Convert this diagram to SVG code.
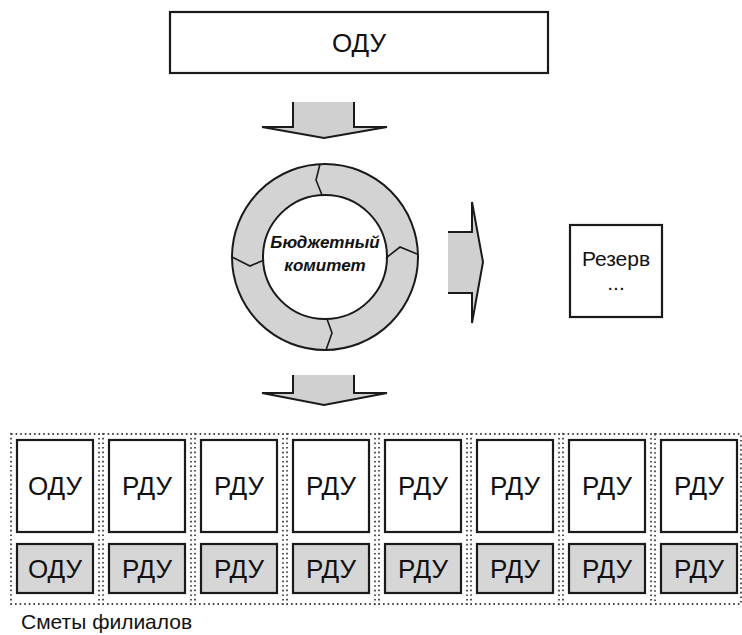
<svg xmlns="http://www.w3.org/2000/svg" width="742" height="635" viewBox="0 0 742 635">
  <style>
    .box { fill: #ffffff; stroke: #1a1a1a; stroke-width: 2.2; }
    .gbox { fill: #d6d6d6; stroke: #1a1a1a; stroke-width: 2.2; }
    .dots { fill: none; stroke: #444; stroke-width: 1.8; stroke-dasharray: 1.6 3; }
    .arrowFill { fill: #d0d0d0; stroke: none; }
    .arrowLine { fill: none; stroke: #1a1a1a; stroke-width: 2; stroke-linejoin: miter; }
    .lbl { font-family: "Liberation Sans", Arial, sans-serif; fill: #111; text-anchor: middle; }
    .big { font-size: 26px; }
    .mid { font-size: 21px; }
    .bi { font-size: 17px; font-weight: bold; font-style: italic; }
    .cap { font-family: "Liberation Sans", Arial, sans-serif; fill: #111; font-size: 21px; }
  </style>

  <!-- head office -->
  <g id="top-odu">
    <rect class="box" x="170" y="12" width="378" height="61"/>
    <text class="lbl big" x="359" y="52">ОДУ</text>
  </g>

  <!-- cycle of the budget committee -->
  <g id="committee">
    <circle cx="325" cy="257" r="93" fill="#d3d3d3" stroke="#1a1a1a" stroke-width="2"/>
    <circle cx="325" cy="257" r="62" fill="#ffffff" stroke="#1a1a1a" stroke-width="2"/>
    <g fill="none" stroke="#1a1a1a" stroke-width="1.6">
      <polyline points="320,164 316,180 322,195"/>
      <polyline points="417,254 400,247 386,258"/>
      <polyline points="327,319 332,333 326,350"/>
      <polyline points="232,257 250,266 264,260"/>
    </g>
    <text class="lbl bi" x="325" y="248">Бюджетный</text>
    <text class="lbl bi" x="325" y="271">комитет</text>
  </g>

  <g id="reserve">
    <rect class="box" x="570" y="225" width="92" height="92"/>
    <text class="lbl mid" x="616" y="266">Резерв</text>
    <text class="lbl mid" x="616" y="290">...</text>
  </g>

  <!-- branch estimates -->
  <g id="estimates">
    <g id="col1">
      <rect class="dots" x="11" y="434" width="88" height="170"/>
      <rect class="box" x="17" y="440" width="76" height="92"/>
      <rect class="gbox" x="17" y="544" width="76" height="49"/>
      <text class="lbl big" x="55" y="495">ОДУ</text>
      <text class="lbl big" x="55" y="578">ОДУ</text>
    </g>
    <g id="col2">
      <rect class="dots" x="103" y="434" width="88" height="170"/>
      <rect class="box" x="109" y="440" width="76" height="92"/>
      <rect class="gbox" x="109" y="544" width="76" height="49"/>
      <text class="lbl big" x="147" y="495">РДУ</text>
      <text class="lbl big" x="147" y="578">РДУ</text>
    </g>
    <g id="col3">
      <rect class="dots" x="195" y="434" width="88" height="170"/>
      <rect class="box" x="201" y="440" width="76" height="92"/>
      <rect class="gbox" x="201" y="544" width="76" height="49"/>
      <text class="lbl big" x="239" y="495">РДУ</text>
      <text class="lbl big" x="239" y="578">РДУ</text>
    </g>
    <g id="col4">
      <rect class="dots" x="287" y="434" width="88" height="170"/>
      <rect class="box" x="293" y="440" width="76" height="92"/>
      <rect class="gbox" x="293" y="544" width="76" height="49"/>
      <text class="lbl big" x="331" y="495">РДУ</text>
      <text class="lbl big" x="331" y="578">РДУ</text>
    </g>
    <g id="col5">
      <rect class="dots" x="379" y="434" width="88" height="170"/>
      <rect class="box" x="385" y="440" width="76" height="92"/>
      <rect class="gbox" x="385" y="544" width="76" height="49"/>
      <text class="lbl big" x="423" y="495">РДУ</text>
      <text class="lbl big" x="423" y="578">РДУ</text>
    </g>
    <g id="col6">
      <rect class="dots" x="471" y="434" width="88" height="170"/>
      <rect class="box" x="477" y="440" width="76" height="92"/>
      <rect class="gbox" x="477" y="544" width="76" height="49"/>
      <text class="lbl big" x="515" y="495">РДУ</text>
      <text class="lbl big" x="515" y="578">РДУ</text>
    </g>
    <g id="col7">
      <rect class="dots" x="563" y="434" width="88" height="170"/>
      <rect class="box" x="569" y="440" width="76" height="92"/>
      <rect class="gbox" x="569" y="544" width="76" height="49"/>
      <text class="lbl big" x="607" y="495">РДУ</text>
      <text class="lbl big" x="607" y="578">РДУ</text>
    </g>
    <g id="col8">
      <rect class="dots" x="655" y="434" width="86" height="170"/>
      <rect class="box" x="661" y="440" width="76" height="92"/>
      <rect class="gbox" x="661" y="544" width="76" height="49"/>
      <text class="lbl big" x="699" y="495">РДУ</text>
      <text class="lbl big" x="699" y="578">РДУ</text>
    </g>
    <text class="cap" x="21" y="629">Сметы филиалов</text>
  </g>

  <!-- block arrows -->
  <g id="connectors">
    <g id="arrow-down-1">
      <polygon class="arrowFill" points="293,102 354,102 354,127 387,127 324,138 262,127 293,127"/>
      <polyline class="arrowLine" points="293,102 293,127 262,127 324,138 387,127 354,127 354,102"/>
    </g>
    <g id="arrow-right">
      <polygon class="arrowFill" points="448,232 472,232 472,202 483,262 472,323 472,293 448,293"/>
      <polyline class="arrowLine" points="448,232 472,232 472,202 483,262 472,323 472,293 448,293"/>
    </g>
    <g id="arrow-down-2">
      <polygon class="arrowFill" points="293,375 354,375 354,393 387,393 324,405 262,393 293,393"/>
      <polyline class="arrowLine" points="293,375 293,393 262,393 324,405 387,393 354,393 354,375"/>
    </g>
  </g>
</svg>
